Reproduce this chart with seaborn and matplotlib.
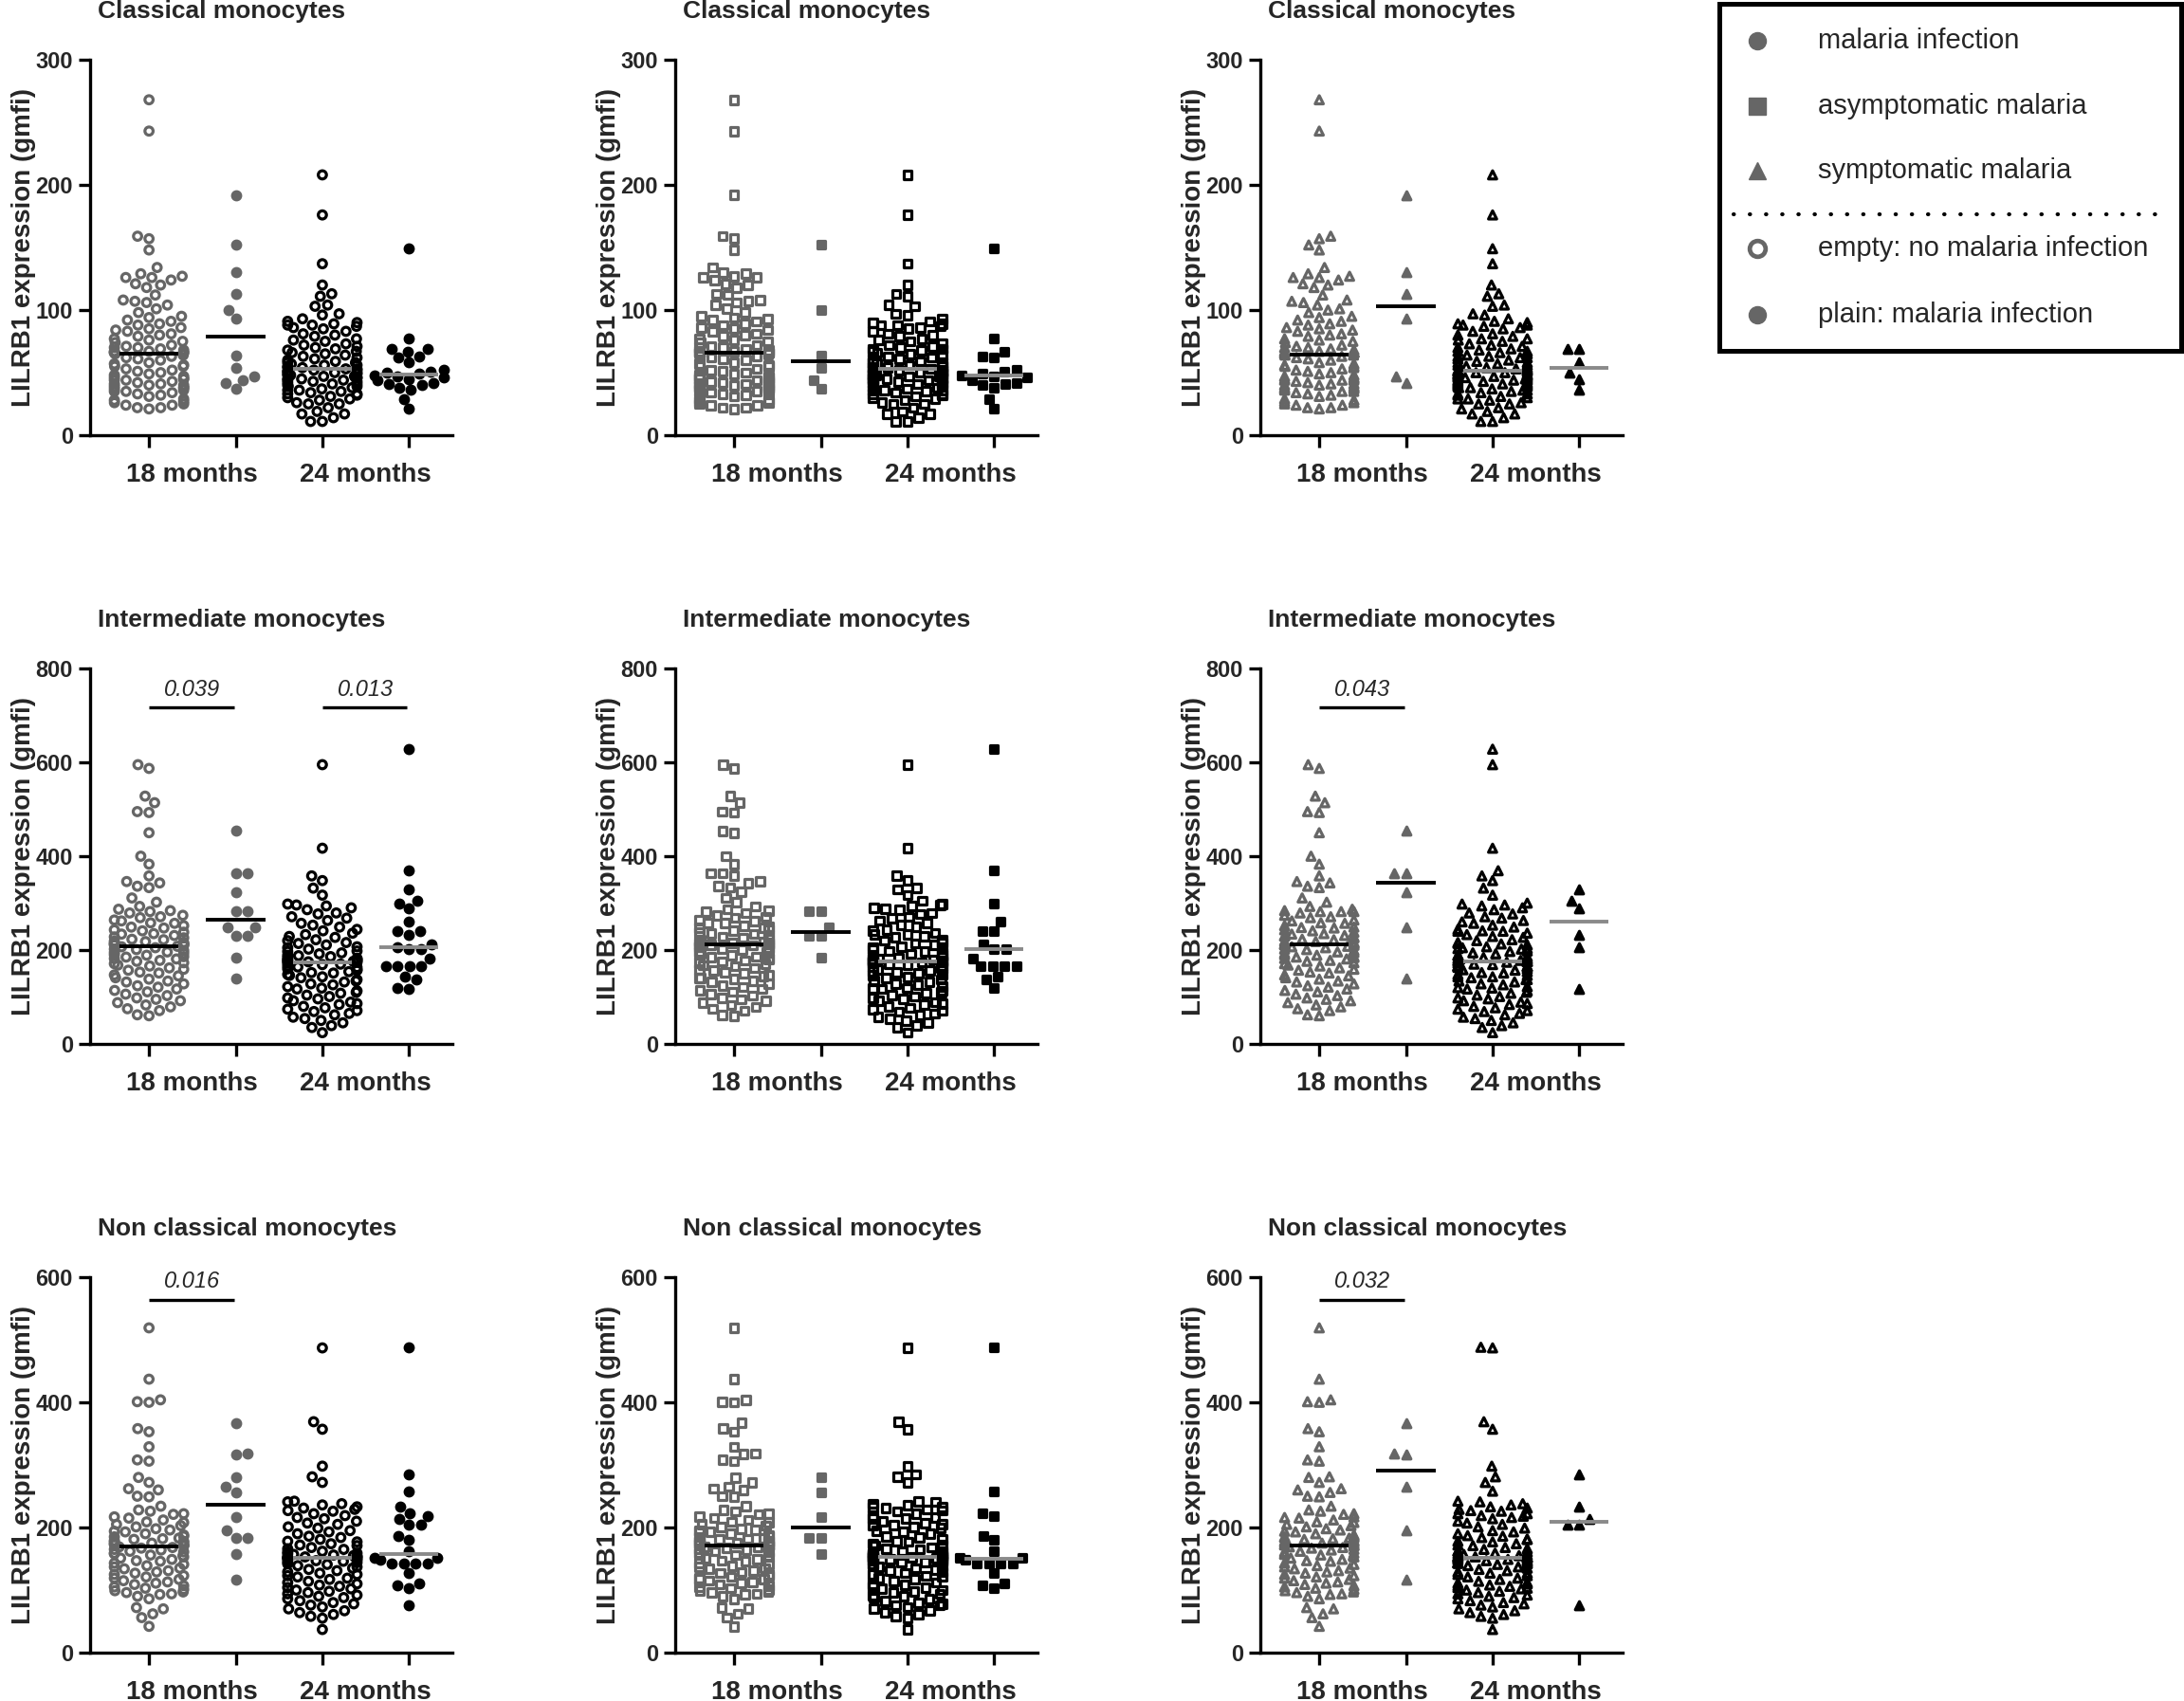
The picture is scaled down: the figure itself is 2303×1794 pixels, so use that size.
import warnings
import numpy as np
import pandas as pd
import matplotlib
matplotlib.use("Agg")
import matplotlib.pyplot as plt
import seaborn as sns

warnings.filterwarnings("ignore")

# ---- data (LILRB1 gmfi) ----
# classical monocytes
cla_18_none = [268, 243, 159, 157, 148, 134, 129, 127, 126, 126, 124, 121, 120, 118, 112, 108, 107, 106, 104, 101,
               98, 95, 94, 92, 91, 89, 88, 86, 85, 84, 83, 81, 80, 79, 77, 76, 75, 74, 72, 71,
               70, 70, 69, 68, 67, 67, 66, 66, 66, 66, 65, 64, 63, 62, 61, 60, 58, 57, 56, 55,
               55, 53, 52, 51, 50, 49, 48, 47, 46, 45, 45, 44, 43, 42, 41, 40, 40, 39, 38, 37,
               36, 35, 35, 34, 33, 32, 31, 29, 28, 27, 26, 25, 24, 24, 22, 22, 21, 44, 38, 41]
cla_24_none = [208, 176, 137, 120, 113, 111, 104, 103, 97, 96, 93, 91, 90, 89, 88, 88, 87, 86, 85, 83,
               81, 80, 79, 77, 76, 75, 73, 72, 71, 70, 69, 68, 67, 66, 65, 64, 63, 62, 61, 60,
               59, 58, 58, 57, 56, 56, 55, 54, 54, 53, 53, 52, 52, 51, 51, 50, 50, 49, 49, 48,
               48, 47, 47, 46, 46, 45, 45, 44, 44, 43, 43, 42, 41, 41, 40, 39, 39, 38, 37, 36,
               36, 35, 34, 33, 33, 32, 31, 30, 29, 28, 26, 25, 25, 22, 19, 17, 17, 14, 11, 11]
cla_18_asym = [152, 100, 64, 54, 44, 37]
cla_18_sym = [192, 130, 113, 93, 47, 42]
cla_24_asym = [149, 77, 67, 63, 62, 52, 51, 49, 48, 47, 46, 44, 42, 41, 40, 38, 29, 21]
cla_24_sym = [69, 69, 58, 50, 45, 36]

# intermediate monocytes
int_18_none = [595, 587, 528, 514, 495, 493, 450, 400, 383, 358, 346, 343, 336, 333, 311, 302, 293, 287, 284, 282,
               279, 274, 271, 269, 264, 262, 258, 257, 252, 249, 247, 243, 241, 238, 235, 234, 231, 228, 226, 223,
               222, 219, 218, 216, 215, 213, 213, 212, 211, 210, 208, 207, 205, 202, 201, 199, 196, 195, 193, 190,
               189, 186, 185, 182, 181, 178, 176, 173, 171, 168, 166, 162, 159, 157, 153, 151, 147, 145, 141, 138,
               134, 132, 128, 124, 121, 117, 114, 111, 106, 103, 98, 95, 92, 88, 83, 79, 75, 71, 62, 60]
int_24_none = [595, 417, 358, 348, 332, 317, 298, 296, 294, 290, 286, 279, 277, 271, 268, 263, 257, 253, 249, 244,
               241, 236, 233, 229, 227, 222, 220, 216, 214, 211, 207, 205, 202, 198, 197, 194, 192, 189, 188, 186,
               184, 182, 181, 180, 178, 178, 177, 176, 175, 175, 174, 172, 170, 169, 166, 164, 163, 160, 158, 157,
               154, 152, 151, 148, 146, 143, 141, 137, 134, 132, 128, 126, 122, 119, 117, 113, 110, 108, 104, 101,
               98, 96, 92, 89, 86, 84, 80, 77, 74, 71, 69, 65, 62, 57, 54, 50, 45, 39, 35, 24]
int_18_asym = [282, 282, 248, 230, 230, 184]
int_18_sym = [454, 364, 364, 324, 248, 140]
int_24_asym = [628, 369, 300, 260, 240, 240, 213, 203, 203, 182, 165, 165, 165, 165, 143, 137, 120]
int_24_sym = [329, 305, 288, 233, 206, 118]

# non classical monocytes
ncl_18_none = [519, 437, 404, 401, 400, 358, 353, 329, 308, 306, 280, 272, 262, 260, 250, 249, 234, 228, 226, 222,
               221, 217, 215, 212, 209, 208, 205, 203, 201, 198, 196, 194, 193, 190, 188, 186, 185, 183, 182, 181,
               179, 178, 177, 176, 175, 174, 173, 172, 171, 171, 169, 168, 167, 165, 164, 162, 161, 159, 158, 156,
               155, 153, 151, 149, 147, 146, 143, 141, 139, 137, 135, 134, 131, 129, 127, 125, 123, 121, 119, 117,
               115, 113, 111, 109, 107, 105, 103, 101, 99, 97, 96, 94, 93, 90, 86, 72, 70, 62, 56, 42]
ncl_24_none = [487, 369, 357, 298, 281, 272, 242, 241, 238, 236, 233, 231, 229, 227, 226, 222, 219, 216, 214, 210,
               207, 205, 201, 199, 195, 193, 190, 186, 184, 181, 178, 177, 174, 172, 171, 168, 166, 165, 162, 161,
               159, 158, 157, 156, 155, 154, 154, 153, 153, 152, 152, 151, 150, 149, 148, 147, 146, 145, 144, 142,
               141, 139, 137, 135, 133, 131, 129, 127, 125, 123, 121, 119, 117, 114, 112, 110, 108, 106, 104, 102,
               100, 98, 96, 94, 92, 90, 88, 86, 83, 80, 78, 76, 73, 70, 67, 64, 61, 58, 55, 37]
ncl_18_asym = [281, 256, 216, 184, 184, 157]
ncl_18_sym = [367, 318, 317, 265, 195, 117]
ncl_24_asym = [488, 258, 222, 218, 187, 181, 162, 152, 152, 148, 143, 143, 143, 143, 127, 111, 107, 103]
ncl_24_sym = [285, 233, 214, 204, 204, 76]

cell_titles = ["Classical monocytes", "Intermediate monocytes", "Non classical monocytes"]
y_max = [300, 800, 600]
y_step = [100, 200, 200]
time_labels = ["18 months", "24 months"]
legend_labels = ["malaria infection", "asymptomatic malaria", "symptomatic malaria",
                 "empty: no malaria infection", "plain: malaria infection"]
# (row, col, first group, second group, text)
p_values = [(1, 0, 0, 1, "0.039"), (1, 0, 2, 3, "0.013"), (1, 2, 0, 1, "0.043"),
            (2, 0, 0, 1, "0.016"), (2, 2, 0, 1, "0.032")]
p_height = [0, 717, 564]

sns.set_theme(style="ticks")
plt.rcParams['font.family'] = ['Liberation Sans', 'DejaVu Sans']

GREY = "#666666"
LINE_GREY = "#8a8a8a"
SP = 0.825  # group spacing so that seaborn's 0.8 swarm width is ~0.66 of it
W, H = 2303, 1794
fig = plt.figure(figsize=(W / 100, H / 100), dpi=100)


def add_px_axes(left, top, width, height):
    return fig.add_axes([left / W, 1 - (top + height) / H, width / W, height / H])


def draw_panel(ax, groups, marker, ymax, ystep, title):
    frames = [pd.DataFrame({"pos": i * SP, "val": vals}) for i, (vals, _) in enumerate(groups)]
    df = pd.concat(frames, ignore_index=True)
    n0 = len(ax.collections)
    sns.swarmplot(data=df, x="pos", y="val", native_scale=True, orient="x", ax=ax,
                  marker=marker, size=6.2, color="black", linewidth=2.3, zorder=2)
    for pts in ax.collections[n0:]:
        off = pts.get_offsets()
        if len(off) == 0:
            continue
        i = int(round(np.mean(off[:, 0]) / SP))
        col = GREY if i < 2 else "black"
        pts.set_edgecolor(col)
        pts.set_facecolor(col if groups[i][1] else "none")

    for i, (vals, _) in enumerate(groups):
        ax.hlines(np.median(vals), (i - 0.34) * SP, (i + 0.34) * SP,
                  color="black" if i < 2 else LINE_GREY, lw=2.8, zorder=6)

    ax.set_xlim(-0.68 * SP, 3.5 * SP)
    ax.set_ylim(0, ymax)
    ax.set_yticks(np.arange(0, ymax + 1, ystep))
    ax.set_xticks([i * SP for i in range(4)])
    ax.set_xticklabels([])
    ax.set_xticks([0.5 * SP, 2.5 * SP], minor=True)
    ax.set_xticklabels(time_labels, minor=True, fontsize=20, fontweight="bold")
    for lab in ax.get_yticklabels():
        lab.set_fontsize(17)
        lab.set_fontweight("bold")
    ax.tick_params(axis="both", which="major", length=9, width=2.4, color="black", pad=4)
    ax.tick_params(axis="x", which="minor", length=0, pad=21)
    ax.set_xlabel("")
    ax.set_ylabel("LILRB1 expression (gmfi)", fontsize=20, fontweight="bold")
    ax.yaxis.set_label_coords(-0.15, 0.5)
    sns.despine(ax=ax)
    for s in ("left", "bottom"):
        ax.spines[s].set_linewidth(2.4)
        ax.spines[s].set_color("black")
    ax.text(0.021, 1 + 44 / 396, title, transform=ax.transAxes, ha="left",
            va="baseline", fontsize=19, fontweight="bold")


col_left = [95, 712, 1329]
row_top = [63, 705, 1347]
markers = ["o", "s", "^"]
data_rows = [
    (cla_18_none, cla_18_asym, cla_18_sym, cla_24_none, cla_24_asym, cla_24_sym),
    (int_18_none, int_18_asym, int_18_sym, int_24_none, int_24_asym, int_24_sym),
    (ncl_18_none, ncl_18_asym, ncl_18_sym, ncl_24_none, ncl_24_asym, ncl_24_sym),
]

axes = {}
for r, (n18, a18, s18, n24, a24, s24) in enumerate(data_rows):
    panel_groups = [
        # any malaria vs none
        [(n18, False), (a18 + s18, True), (n24, False), (a24 + s24, True)],
        # asymptomatic vs the rest
        [(n18 + s18, False), (a18, True), (n24 + s24, False), (a24, True)],
        # symptomatic vs the rest
        [(n18 + a18, False), (s18, True), (n24 + a24, False), (s24, True)],
    ]
    for c in range(3):
        ax = add_px_axes(col_left[c], row_top[r], 382, 396)
        draw_panel(ax, panel_groups[c], markers[c], y_max[r], y_step[r], cell_titles[r])
        axes[(r, c)] = ax

for r, c, g0, g1, txt in p_values:
    ax = axes[(r, c)]
    yv = p_height[r]
    ax.plot([g0 * SP, (g1 - 0.02) * SP], [yv, yv], color="black", lw=2.4,
            solid_capstyle="butt", zorder=6)
    ax.annotate(txt, xy=((g0 + g1) / 2 * SP, yv), xytext=(0, 9), textcoords="offset points",
                ha="center", va="baseline", fontsize=17, fontstyle="italic")

# ---- legend box ----
lax = add_px_axes(1813, 4, 487, 366)
lax.set_xlim(0, 1)
lax.set_ylim(0, 1)
lax.set_xticks([])
lax.set_yticks([])
for s in lax.spines.values():
    s.set_visible(True)
    s.set_linewidth(3.6)
    s.set_color("black")
leg_y = [0.893, 0.705, 0.519, 0.295, 0.104]
leg_marker = [("o", True), ("s", True), ("^", True), ("o", False), ("o", True)]
for yv, (mk, filled), lab in zip(leg_y, leg_marker, legend_labels):
    if filled:
        lax.plot([0.082], [yv], marker=mk, ms=13, color=GREY, mec=GREY, ls="none")
    else:
        lax.plot([0.082], [yv], marker=mk, ms=12, mfc="none", mec=GREY, mew=3.4, ls="none")
    lax.text(0.2135, yv, lab, ha="left", va="center", fontsize=21)
lax.plot([0.031, 0.959], [0.393, 0.393], color="black", lw=3,
         ls=(0, (0.1, 4)), dash_capstyle="round")

fig.savefig("out.png", dpi=100)
